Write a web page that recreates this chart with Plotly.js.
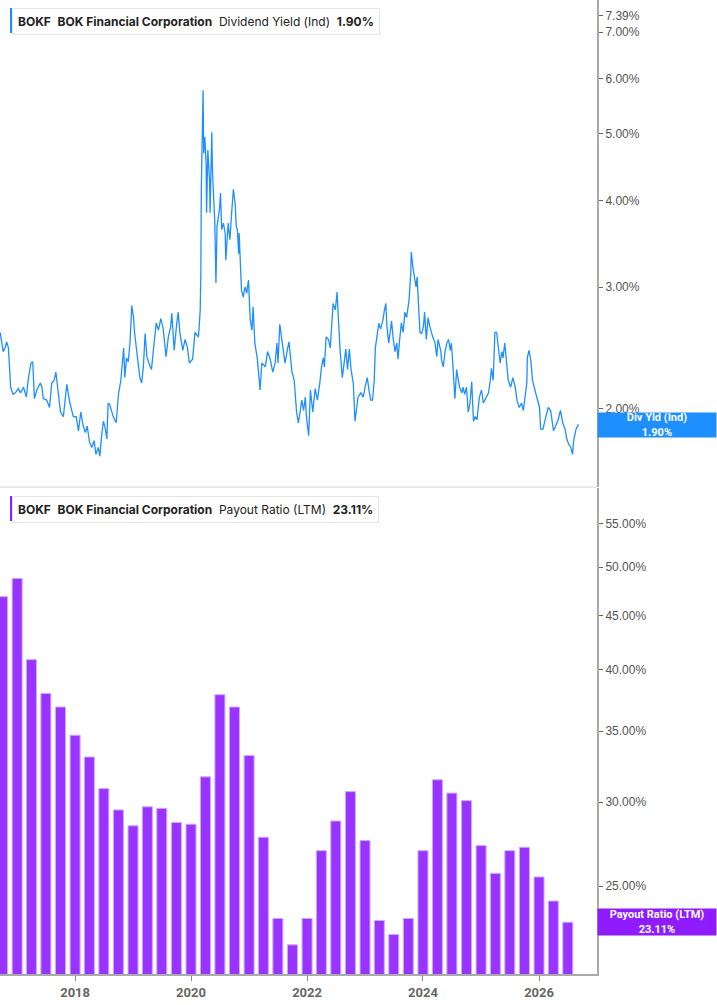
<!DOCTYPE html>
<html>
<head>
<meta charset="utf-8">
<script src="https://cdn.plot.ly/plotly-3.0.1.min.js"></script>
<style>
  body { margin: 0; background: #fff; }
  #chart { width: 717px; height: 1005px; }
</style>
</head>
<body>
<div id="chart"></div>
<script>
// Dividend yield (indicated), % - time given as decimal year
var yieldYears = [
  2016.71, 2016.74, 2016.76, 2016.79, 2016.82, 2016.85, 2016.87, 2016.89, 2016.93, 2016.97,
  2017.02, 2017.06, 2017.11, 2017.16, 2017.19, 2017.24, 2017.27, 2017.30, 2017.34, 2017.40,
  2017.43, 2017.45, 2017.51, 2017.56, 2017.60, 2017.64, 2017.67, 2017.71, 2017.75, 2017.80,
  2017.83, 2017.86, 2017.91, 2017.94, 2017.97, 2018.02, 2018.06, 2018.10, 2018.14, 2018.18,
  2018.21, 2018.25, 2018.29, 2018.33, 2018.36, 2018.40, 2018.43, 2018.46, 2018.49, 2018.52,
  2018.55, 2018.57, 2018.60, 2018.66, 2018.71, 2018.75, 2018.79, 2018.82, 2018.84, 2018.86,
  2018.89, 2018.92, 2018.95, 2018.98, 2019.01, 2019.03, 2019.06, 2019.09, 2019.12, 2019.15,
  2019.18, 2019.21, 2019.24, 2019.29, 2019.32, 2019.36, 2019.40, 2019.44, 2019.48, 2019.52,
  2019.57, 2019.61, 2019.65, 2019.67, 2019.71, 2019.75, 2019.78, 2019.81, 2019.86, 2019.90,
  2019.94, 2019.97, 2020.03, 2020.07, 2020.13, 2020.16, 2020.17, 2020.18, 2020.19, 2020.21,
  2020.22, 2020.24, 2020.26, 2020.27, 2020.29, 2020.32, 2020.33, 2020.36, 2020.37, 2020.40,
  2020.41, 2020.43, 2020.45, 2020.49, 2020.51, 2020.53, 2020.56, 2020.59, 2020.60, 2020.64,
  2020.67, 2020.70, 2020.73, 2020.76, 2020.78, 2020.80, 2020.82, 2020.83, 2020.86, 2020.87,
  2020.90, 2020.93, 2020.96, 2020.99, 2021.02, 2021.05, 2021.07, 2021.10, 2021.14, 2021.19,
  2021.22, 2021.28, 2021.32, 2021.36, 2021.41, 2021.45, 2021.48, 2021.50, 2021.53, 2021.58,
  2021.62, 2021.66, 2021.69, 2021.74, 2021.78, 2021.82, 2021.85, 2021.88, 2021.91, 2021.94,
  2021.97, 2021.99, 2022.03, 2022.06, 2022.10, 2022.14, 2022.18, 2022.22, 2022.25, 2022.28,
  2022.30, 2022.33, 2022.37, 2022.40, 2022.43, 2022.45, 2022.49, 2022.52, 2022.54, 2022.57,
  2022.61, 2022.64, 2022.67, 2022.70, 2022.73, 2022.76, 2022.80, 2022.83, 2022.86, 2022.88,
  2022.93, 2022.97, 2023.00, 2023.04, 2023.07, 2023.10, 2023.13, 2023.16, 2023.18, 2023.21,
  2023.24, 2023.27, 2023.31, 2023.33, 2023.36, 2023.38, 2023.41, 2023.44, 2023.46, 2023.49,
  2023.52, 2023.55, 2023.57, 2023.60, 2023.63, 2023.66, 2023.69, 2023.72, 2023.75, 2023.76,
  2023.79, 2023.80, 2023.83, 2023.86, 2023.88, 2023.90, 2023.92, 2023.95, 2023.98, 2024.01,
  2024.03, 2024.06, 2024.09, 2024.12, 2024.17, 2024.21, 2024.24, 2024.26, 2024.31, 2024.32,
  2024.35, 2024.38, 2024.41, 2024.44, 2024.47, 2024.49, 2024.52, 2024.55, 2024.58, 2024.63,
  2024.67, 2024.69, 2024.72, 2024.75, 2024.78, 2024.81, 2024.84, 2024.87, 2024.90, 2024.93,
  2024.97, 2025.01, 2025.04, 2025.09, 2025.13, 2025.16, 2025.18, 2025.21, 2025.24, 2025.27,
  2025.30, 2025.33, 2025.36, 2025.38, 2025.41, 2025.44, 2025.47, 2025.51, 2025.55, 2025.59,
  2025.62, 2025.66, 2025.70, 2025.73, 2025.76, 2025.79, 2025.80, 2025.83, 2025.86, 2025.89,
  2025.93, 2025.97, 2026.01, 2026.03, 2026.07, 2026.12, 2026.16, 2026.20, 2026.25, 2026.29,
  2026.33, 2026.37, 2026.41, 2026.45, 2026.48, 2026.51, 2026.55, 2026.58, 2026.60, 2026.64,
  2026.68
];
var yieldValues = [
  2.58, 2.50, 2.42, 2.45, 2.50, 2.45, 2.22, 2.15, 2.10, 2.11,
  2.14, 2.11, 2.15, 2.08, 2.20, 2.33, 2.34, 2.07, 2.13, 2.18,
  2.15, 2.07, 2.06, 2.01, 2.18, 2.20, 2.26, 2.13, 1.98, 1.95,
  2.06, 2.17, 2.04, 1.99, 1.95, 1.95, 1.86, 1.98, 1.89, 1.85,
  1.89, 1.79, 1.76, 1.80, 1.72, 1.76, 1.71, 1.83, 1.92, 1.88,
  1.81, 2.04, 2.03, 1.95, 1.91, 2.10, 2.20, 2.35, 2.45, 2.22,
  2.37, 2.34, 2.50, 2.82, 2.71, 2.57, 2.45, 2.35, 2.22, 2.18,
  2.30, 2.57, 2.38, 2.31, 2.28, 2.47, 2.66, 2.60, 2.70, 2.62,
  2.38, 2.54, 2.63, 2.75, 2.43, 2.63, 2.76, 2.58, 2.43, 2.52,
  2.45, 2.33, 2.36, 2.58, 2.54, 2.78, 3.14, 4.17, 4.84, 5.77,
  4.68, 4.94, 4.52, 3.84, 4.73, 4.27, 3.84, 5.02, 4.42, 4.00,
  3.71, 3.04, 3.67, 3.88, 4.10, 3.63, 3.71, 3.59, 3.28, 3.71,
  3.51, 3.84, 4.15, 3.96, 3.67, 3.63, 3.35, 3.59, 3.14, 2.97,
  2.90, 3.00, 2.94, 3.07, 2.69, 2.60, 2.81, 2.49, 2.37, 2.13,
  2.33, 2.30, 2.42, 2.37, 2.26, 2.33, 2.49, 2.33, 2.65, 2.45,
  2.33, 2.43, 2.50, 2.26, 2.20, 1.98, 1.91, 1.98, 2.06, 1.99,
  2.08, 1.95, 1.83, 2.13, 1.98, 2.14, 2.06, 2.18, 2.30, 2.37,
  2.30, 2.54, 2.52, 2.45, 2.63, 2.84, 2.78, 2.95, 2.71, 2.43,
  2.22, 2.33, 2.44, 2.28, 2.44, 2.28, 2.18, 1.92, 2.04, 2.08,
  2.11, 2.08, 2.15, 2.22, 2.13, 2.06, 2.06, 2.20, 2.45, 2.54,
  2.66, 2.61, 2.69, 2.76, 2.84, 2.63, 2.49, 2.60, 2.68, 2.52,
  2.42, 2.49, 2.36, 2.52, 2.66, 2.58, 2.76, 2.71, 2.82, 2.87,
  3.14, 3.37, 3.20, 3.10, 3.00, 3.10, 2.84, 2.58, 2.57, 2.63,
  2.76, 2.52, 2.71, 2.63, 2.54, 2.49, 2.38, 2.52, 2.42, 2.35,
  2.30, 2.42, 2.49, 2.52, 2.43, 2.49, 2.28, 2.07, 2.28, 2.15,
  2.11, 2.15, 2.10, 2.15, 1.98, 2.04, 2.19, 1.92, 1.95, 1.93,
  2.08, 2.13, 2.04, 2.08, 2.11, 2.20, 2.29, 2.20, 2.58, 2.58,
  2.43, 2.33, 2.42, 2.37, 2.49, 2.33, 2.20, 2.15, 2.22, 2.15,
  2.06, 2.01, 2.04, 1.99, 2.08, 2.18, 2.37, 2.43, 2.35, 2.20,
  2.13, 2.06, 2.01, 1.87, 1.87, 1.95, 2.01, 1.99, 1.86, 1.89,
  1.93, 1.99, 1.91, 1.87, 1.81, 1.78, 1.76, 1.72, 1.80, 1.87,
  1.90
];

// Payout ratio (LTM), % - quarterly
var payoutDates = [
  '2016-10-01', '2017-01-01', '2017-04-01', '2017-07-01', '2017-10-01',
  '2018-01-01', '2018-04-01', '2018-07-01', '2018-10-01', '2019-01-01',
  '2019-04-01', '2019-07-01', '2019-10-01', '2020-01-01', '2020-04-01',
  '2020-07-01', '2020-10-01', '2021-01-01', '2021-04-01', '2021-07-01',
  '2021-10-01', '2022-01-01', '2022-04-01', '2022-07-01', '2022-10-01',
  '2023-01-01', '2023-04-01', '2023-07-01', '2023-10-01', '2024-01-01',
  '2024-04-01', '2024-07-01', '2024-10-01', '2025-01-01', '2025-04-01',
  '2025-07-01', '2025-10-01', '2026-01-01', '2026-04-01', '2026-07-01'
];
var payoutValues = [
  46.9, 48.8, 40.9, 38.0, 36.9, 34.7, 33.1, 30.9, 29.5, 28.5,
  29.7, 29.6, 28.7, 28.6, 31.7, 37.9, 36.9, 33.2, 27.8, 23.3,
  22.0, 23.3, 27.0, 28.8, 30.7, 27.6, 23.2, 22.5, 23.3, 27.0,
  31.5, 30.6, 30.1, 27.3, 25.7, 27.0, 27.2, 25.5, 24.2, 23.11
];

var yieldTicks = [2, 3, 4, 5, 6, 7, 7.39];
var payoutTicks = [25, 30, 35, 40, 45, 50, 55];
var xTickYears = ['2018', '2020', '2022', '2024', '2026'];

var BLUE = '#1e8fff';
var PURPLE = '#9933ff';
var PURPLE_DARK = '#8e1cff';

// decimal year -> yyyy-mm-dd
function yearToDate(t){
  let y = Math.floor(t);
  let start = Date.UTC(y, 0, 1);
  let end = Date.UTC(y + 1, 0, 1);
  return new Date(start + (t - y) * (end - start)).toISOString().slice(0, 10);
}

// plot area in pixels (used to place boxes in paper coords)
var W = 717, H = 1005, MR = 120, MB = 31;
var PW = W - MR, PH = H - MB;
function px(x){ return x / PW; }
function py(y){ return 1 - y / PH; }

var nb = '\u00a0';

var yieldTrace = {
  x: yieldYears.map(yearToDate),
  y: yieldValues,
  type: 'scatter',
  mode: 'lines',
  line: {color: BLUE, width: 1.3},
  xaxis: 'x',
  yaxis: 'y',
  hoverinfo: 'skip'
};

var payoutTrace = {
  x: payoutDates,
  y: payoutValues,
  type: 'bar',
  marker: {color: PURPLE, line: {color: '#cfa8ff', width: 1}},
  xaxis: 'x2',
  yaxis: 'y2',
  hoverinfo: 'skip'
};

var axisFont = {family: 'Liberation Sans, Arial, sans-serif', size: 12, color: '#555'};

var layout = {
  width: W,
  height: H,
  margin: {l: 0, r: MR, t: 0, b: MB},
  paper_bgcolor: '#fff',
  plot_bgcolor: '#fff',
  showlegend: false,
  bargap: 0.3,
  xaxis: {
    type: 'date',
    anchor: 'y',
    range: ['2016-09-15', '2027-01-01'],
    showticklabels: false,
    showgrid: false,
    zeroline: false,
    ticks: ''
  },
  xaxis2: {
    type: 'date',
    anchor: 'y2',
    range: ['2016-09-15', '2027-01-01'],
    showgrid: false,
    zeroline: false,
    showline: true,
    linecolor: '#aaa',
    linewidth: 2,
    ticks: 'outside',
    ticklen: 5,
    tickcolor: '#888',
    tickvals: xTickYears.map(function(y){ return y + '-01-01'; }),
    ticktext: xTickYears.map(function(y){ return '<b>' + y + '</b>'; }),
    tickfont: {family: 'Roboto, sans-serif', size: 13, color: '#666'}
  },
  yaxis: {
    type: 'log',
    domain: [0.5, 1],
    side: 'right',
    anchor: 'x',
    range: [Math.log10(1.543), Math.log10(7.79)],
    showgrid: false,
    zeroline: false,
    showline: true,
    linecolor: '#aaa',
    linewidth: 2,
    ticks: 'outside',
    ticklen: 4,
    tickcolor: '#666',
    tickvals: yieldTicks,
    ticktext: yieldTicks.map(function(v){ return v.toFixed(2) + '%'; }),
    tickfont: axisFont
  },
  yaxis2: {
    type: 'log',
    domain: [0, 0.499],
    side: 'right',
    anchor: 'x2',
    range: [Math.log10(20.65), Math.log10(59.4)],
    showgrid: false,
    zeroline: false,
    showline: true,
    linecolor: '#aaa',
    linewidth: 2,
    ticks: 'outside',
    ticklen: 4,
    tickcolor: '#666',
    tickvals: payoutTicks,
    ticktext: payoutTicks.map(function(v){ return v.toFixed(2) + '%'; }),
    tickfont: axisFont
  },
  shapes: [
    // separator between panels
    {type: 'line', xref: 'paper', yref: 'paper', x0: 0, x1: 1, y0: py(487), y1: py(487),
     line: {color: '#d0d0d0', width: 1}},
    // legend colour bars
    {type: 'rect', xref: 'paper', yref: 'paper', x0: px(10), x1: px(13), y0: py(33), y1: py(8),
     fillcolor: BLUE, line: {width: 0}},
    {type: 'rect', xref: 'paper', yref: 'paper', x0: px(10), x1: px(13), y0: py(521), y1: py(496),
     fillcolor: PURPLE_DARK, line: {width: 0}}
  ],
  annotations: [
    {
      xref: 'paper', yref: 'paper', x: px(12), y: py(8), xanchor: 'left', yanchor: 'top',
      showarrow: false, align: 'left',
      text: '<b>BOKF</b>' + nb + nb + '<b>BOK Financial Corporation</b>' + nb + nb +
            'Dividend Yield (Ind)' + nb + nb + '<b>1.90%</b>',
      font: {family: 'Inter, sans-serif', size: 12, color: '#222'},
      bgcolor: '#fff', bordercolor: '#e6e6e6', borderwidth: 1, borderpad: 5
    },
    {
      xref: 'paper', yref: 'paper', x: px(12), y: py(496), xanchor: 'left', yanchor: 'top',
      showarrow: false, align: 'left',
      text: '<b>BOKF</b>' + nb + nb + '<b>BOK Financial Corporation</b>' + nb + nb +
            'Payout Ratio (LTM)' + nb + nb + '<b>23.11%</b>',
      font: {family: 'Inter, sans-serif', size: 12, color: '#222'},
      bgcolor: '#fff', bordercolor: '#e6e6e6', borderwidth: 1, borderpad: 5
    },
    {
      xref: 'paper', yref: 'paper', x: 1, y: py(425.5), xanchor: 'left', yanchor: 'middle',
      showarrow: false, align: 'center', width: 118, height: 24, borderpad: 0,
      text: '<b>Div Yld (Ind)</b><br><b>1.90%</b>',
      font: {family: 'Roboto, sans-serif', size: 11, color: '#fff'},
      bgcolor: BLUE
    },
    {
      xref: 'paper', yref: 'paper', x: 1, y: py(921.5), xanchor: 'left', yanchor: 'middle',
      showarrow: false, align: 'center', width: 118, height: 26, borderpad: 0,
      text: '<b>Payout Ratio (LTM)</b><br><b>23.11%</b>',
      font: {family: 'Roboto, sans-serif', size: 11, color: '#fff'},
      bgcolor: PURPLE_DARK
    }
  ]
};

Plotly.newPlot('chart', [yieldTrace, payoutTrace], layout, {displayModeBar: false, staticPlot: true});
</script>
</body>
</html>
